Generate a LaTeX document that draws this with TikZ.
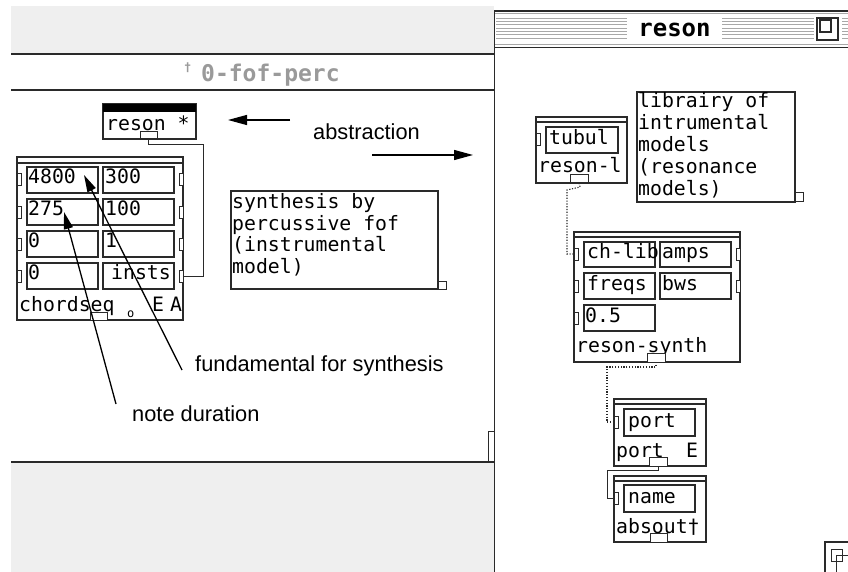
\documentclass[tikz,border=0pt]{standalone}
\usepackage{fontspec}
\setmainfont{Liberation Sans}
\newfontfamily\pix{DejaVu Sans Mono}
\usetikzlibrary{fit,arrows.meta}
\definecolor{bgray}{HTML}{EFEFEF}
\definecolor{lgray}{HTML}{2A2A2A}
\definecolor{tgray}{HTML}{9A9A9A}
\definecolor{sgray}{HTML}{A8A8A8}
\begin{document}
\begin{tikzpicture}[x=1pt,y=-1pt,
 obj/.style={draw=lgray, line width=1.2pt, inner sep=0pt, outer sep=0pt},
 cell/.style={draw=lgray, line width=1.2pt, inner sep=0pt, outer sep=0pt},
 tab/.style={draw=lgray, line width=1pt, fill=white, inner sep=0pt, outer sep=0pt},
 ptxt/.style={font=\pix\fontsize{19.8}{21}\selectfont, inner sep=0pt, anchor=base west, text=black},
 note/.style={font=\fontsize{21.8}{24}\selectfont, inner sep=0pt, anchor=base west},
 wire/.style={draw=lgray, line width=1pt},
 dwire/.style={draw=lgray, line width=1.1pt, dash pattern=on 1.2pt off 1.6pt},
 arr/.style={line width=1.3pt, -{Triangle[length=19pt,width=10pt]}},
 sarr/.style={line width=1.3pt, -{Triangle[length=17pt,width=9pt]}},
 frame/.style={draw=lgray, line width=1.8pt},
 topline/.style={draw=lgray, line width=1.2pt},
]
\useasboundingbox (0,0) rectangle (848,572);
\fill[white] (0,0) rectangle (848,572);
% ---------- left window ----------
\fill[bgray] (11,6) rectangle (494,54);
\fill[bgray] (11,462) rectangle (494,572);
\draw[lgray, line width=1.2pt] (11,54) -- (494,54);
\draw[lgray, line width=1.2pt] (11,90) -- (494,90);
\draw[frame] (11,462) -- (494,462);
\draw[lgray, line width=1pt] (488,462) -- (488,431) -- (494,431);
\node[font=\pix\bfseries\fontsize{12}{14}\selectfont, text=tgray, anchor=base west, inner sep=0pt] (ldag) at (184,72) {†};
\node[font=\pix\bfseries\fontsize{23}{26}\selectfont, text=tgray, anchor=base west, inner sep=0pt] (ltitle) at (201,82) {0-fof-perc};
% ---------- right window ----------
\fill[white] (494,11) rectangle (848,572);
\foreach \k in {0,...,6} {
  \draw[sgray, line width=1pt] (496,{18.3+3.3*\k}) -- (627,{18.3+3.3*\k});
  \draw[sgray, line width=1pt] (722,{18.3+3.3*\k}) -- (814,{18.3+3.3*\k});
  \draw[sgray, line width=1pt] (842,{18.3+3.3*\k}) -- (848,{18.3+3.3*\k});
}
\draw[lgray, line width=1.5pt] (494,11) -- (848,11);
\draw[sgray, line width=1pt] (494,13.5) -- (848,13.5);
\draw[sgray, line width=1pt] (494,44.5) -- (848,44.5);
\draw[lgray, line width=1.5pt] (494,47.5) -- (848,47.5);
\node[font=\pix\bfseries\fontsize{24}{26}\selectfont, anchor=base, inner sep=0pt] (rtitle) at (674.5,37) {reson};
\draw[lgray, line width=1.2pt] (817,18) rectangle (838,40);
\draw[lgray, line width=1.2pt] (820,20) rectangle (831,32);
\draw[frame] (494.5,11) -- (494.5,572);
\draw[lgray, line width=1.2pt] (825,542) rectangle (852,576);
\draw[lgray, line width=1pt] (831,549) rectangle (842,561);
\draw[lgray, line width=1pt] (836,555) rectangle (852,576);
% ---------- reson * ----------
\node[obj, fit={(103,104) (196,139)}] (resonbox) {};
\fill[black] (103,104) rectangle (196,112);
\node[ptxt] (resontxt) at (106,131) {reson *};
\node[tab, fit={(140,132) (157,139)}] (resonout) {};
% ---------- chordseq ----------
\node[obj, fit={(17,157) (183,320)}] (chordbox) {};
\draw[topline] (17,163) -- (183,163);
\node[cell, fit={(27,167) (98,193)}] (c11) {};
\node[cell, fit={(103,167) (174,193)}] (c12) {};
\node[cell, fit={(27,199) (98,225)}] (c21) {};
\node[cell, fit={(103,199) (174,225)}] (c22) {};
\node[cell, fit={(27,231) (98,257)}] (c31) {};
\node[cell, fit={(103,231) (174,257)}] (c32) {};
\node[cell, fit={(27,263) (98,289)}] (c41) {};
\node[cell, fit={(103,263) (174,289)}] (c42) {};
\node[tab, fit={(17,174) (21,186)}] (cin1) {};
\node[tab, fit={(17,206) (21,218)}] (cin2) {};
\node[tab, fit={(17,238) (21,250)}] (cin3) {};
\node[tab, fit={(17,270) (21,282)}] (cin4) {};
\node[tab, fit={(179,174) (183,186)}] (cout1) {};
\node[tab, fit={(179,206) (183,218)}] (cout2) {};
\node[tab, fit={(179,238) (183,250)}] (cout3) {};
\node[tab, fit={(179,270) (183,282)}] (insttab) {};
\node[ptxt] (t4800) at (28,183) {4800};
\node[ptxt] (t300) at (105,183) {300};
\node[ptxt] (t275) at (28,215) {275};
\node[ptxt] (t100) at (105,215) {100};
\node[ptxt] (t0a) at (28,247) {0};
\node[ptxt] (t1) at (105,247) {1};
\node[ptxt] (t0b) at (28,279) {0};
\node[ptxt] (tinsts) at (111,279) {insts};
\node[ptxt] (tchord) at (19,311) {chordseq};
\node[ptxt, font=\pix\fontsize{12}{14}\selectfont] (tsmallo) at (127,317) {o};
\node[ptxt] (tE) at (152,311) {E};
\node[ptxt] (tA) at (170,311) {A};
\node[tab, fit={(90,312) (107,320)}] (chordout) {};
\draw[wire] (resonout.south) -- (148.5,145) -| (203,276) -- (insttab.east);
% ---------- comment 1 ----------
\node[obj, fit={(231,191) (438,289)}] (cmt1) {};
\node[tab, fit={(438,281) (446,289)}] (cmt1r) {};
\node[ptxt] (cmt1a) at (232,208) {synthesis by};
\node[ptxt] (cmt1b) at (232,230) {percussive fof};
\node[ptxt] (cmt1c) at (232,251) {(instrumental};
\node[ptxt] (cmt1d) at (232,273) {model)};
% ---------- reson-l ----------
\node[obj, fit={(536,117) (627,183)}] (rlbox) {};
\draw[topline] (536,122) -- (627,122);
\node[cell, fit={(546,127) (618,153)}] (rlcell) {};
\node[tab, fit={(536,134) (540,146)}] (rlin) {};
\node[ptxt] (ttubul) at (549,145) {tubul};
\node[ptxt] (trl) at (538,173) {reson-l};
\node[tab, fit={(570,175) (588,183)}] (rlout) {};
% ---------- comment 2 ----------
\node[obj, fit={(637,92) (795,202)}] (cmt2) {};
\node[tab, fit={(795,193) (803,201)}] (cmt2r) {};
\node[ptxt] (cmt2a) at (638,108) {librairy of};
\node[ptxt] (cmt2b) at (638,130) {intrumental};
\node[ptxt] (cmt2c) at (638,152) {models};
\node[ptxt] (cmt2d) at (638,174) {(resonance};
\node[ptxt] (cmt2e) at (638,196) {models)};
% ---------- reson-synth ----------
\node[obj, fit={(574,232) (740,362)}] (rsbox) {};
\draw[topline] (574,237) -- (740,237);
\node[cell, fit={(584,242) (655,267)}] (rs11) {};
\node[cell, fit={(660,242) (731,267)}] (rs12) {};
\node[cell, fit={(584,273) (655,299)}] (rs21) {};
\node[cell, fit={(660,273) (731,299)}] (rs22) {};
\node[cell, fit={(584,305) (655,331)}] (rs31) {};
\node[tab, fit={(574,248) (578,260)}] (rsin1) {};
\node[tab, fit={(574,280) (578,292)}] (rsin2) {};
\node[tab, fit={(574,312) (578,324)}] (rsin3) {};
\node[tab, fit={(736,248) (740,260)}] (rsr1) {};
\node[tab, fit={(736,280) (740,292)}] (rsr2) {};
\node[ptxt] (tchlib) at (587,258) {ch-lib};
\node[ptxt] (tamps) at (662,258) {amps};
\node[ptxt] (tfreqs) at (587,290) {freqs};
\node[ptxt] (tbws) at (662,290) {bws};
\node[ptxt] (t05) at (585,322) {0.5};
\node[ptxt] (trs) at (576,352) {reson-synth};
\node[tab, fit={(647,353) (665,362)}] (rsout) {};
\draw[dwire] (rlout.south) -- (580,187) -- (567,190) -- (567,254) -- (rsin1.west);
% ---------- port ----------
\node[obj, fit={(614,399) (706,466)}] (portbox) {};
\draw[topline] (614,404) -- (706,404);
\node[cell, fit={(624,409) (695,436)}] (portcell) {};
\node[tab, fit={(614,416) (618,428)}] (portin) {};
\node[ptxt] (tport) at (628,427) {port};
\node[ptxt] (tportl) at (616,457) {port};
\node[ptxt] (tportE) at (686,457) {E};
\node[tab, fit={(649,457) (667,466)}] (portout) {};
\draw[dwire] (rsout.south) -- (656,367) -| (607,422) -- (portin.west);
% ---------- absout ----------
\node[obj, fit={(614,476) (706,542)}] (absbox) {};
\draw[topline] (614,481) -- (706,481);
\node[cell, fit={(624,485) (695,512)}] (abscell) {};
\node[tab, fit={(614,492) (618,504)}] (namein) {};
\node[ptxt] (tname) at (628,503) {name};
\node[ptxt] (tabs) at (616,533) {absout†};
\node[tab, fit={(650,533) (667,542)}] (absout) {};
\draw[wire] (portout.south) -- (658,470) -| (607,498) -- (namein.west);
% ---------- annotations ----------
\node[note] (labs) at (313,140) {abstraction};
\coordinate (aL1) at (290,120);
\coordinate (aL2) at (228,120);
\coordinate (aR1) at (372,155);
\coordinate (aR2) at (473,155);
\draw[arr] (aL1) -- (aL2);
\draw[arr] (aR1) -- (aR2);
\node[note] (lfund) at (195,371) {fundamental for synthesis};
\node[note] (ldur) at (132,421) {note duration};
\coordinate (fs) at (182,370);
\coordinate (ft) at (84,175);
\coordinate (ds) at (116,404);
\coordinate (dt) at (64,212);
\draw[sarr] (fs) -- (ft);
\draw[sarr] (ds) -- (dt);
\end{tikzpicture}
\end{document}
